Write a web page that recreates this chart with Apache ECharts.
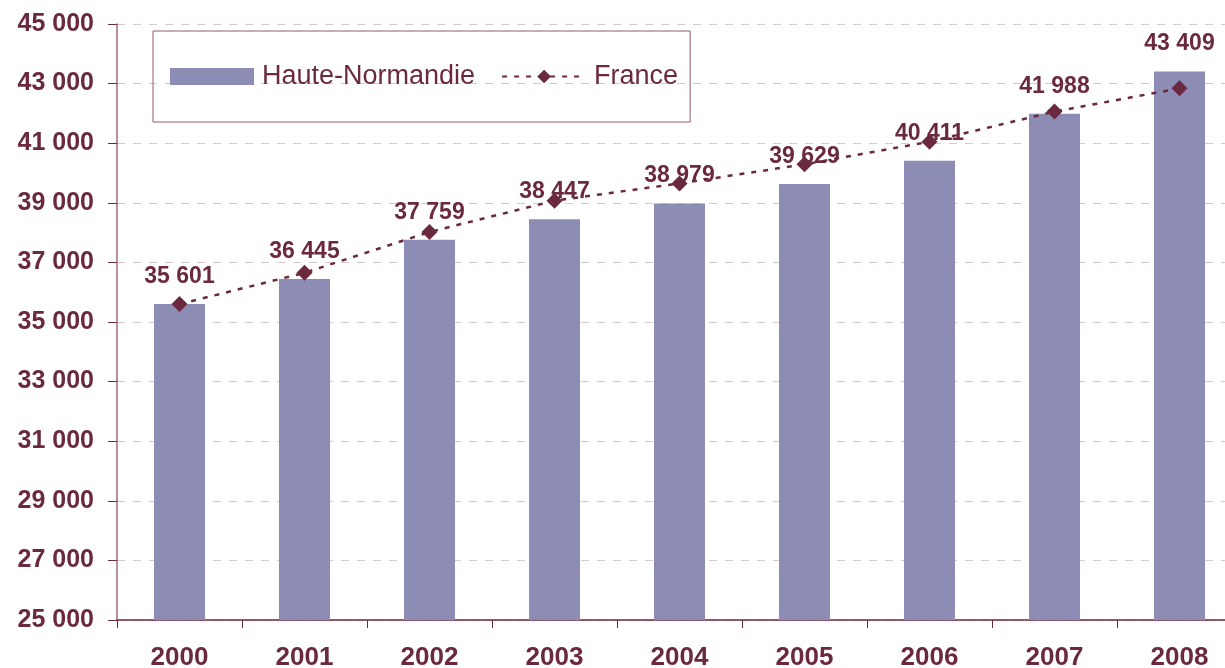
<!DOCTYPE html>
<html lang="fr">
<head>
<meta charset="UTF-8">
<title>Haute-Normandie / France</title>
<script src="https://cdn.jsdelivr.net/npm/echarts@6/dist/echarts.min.js"></script>
<style>
  html, body { margin: 0; padding: 0; background: #fff; overflow: hidden; }
  /* le graphique d'origine déborde un peu à droite */
  #main { width: 1242px; height: 668px; }
</style>
</head>
<body>
<div id="main"></div>
<script>
var years = ['2000', '2001', '2002', '2003', '2004', '2005', '2006', '2007', '2008'];
// Haute-Normandie (barres, valeurs affichées)
var hauteNormandie = [35601, 36445, 37759, 38447, 38979, 39629, 40411, 41988, 43409];
// France (ligne pointillée)
var france = [35600, 36650, 38020, 39070, 39650, 40290, 41050, 42060, 42840];

var dark = '#6B2940';
var font = '"Liberation Sans", Arial, sans-serif';

function fmt(v) {
    return String(v).replace(/\B(?=(\d{3})+(?!\d))/g, ' ');
}

var myChart = echarts.init(document.getElementById('main'));

var option = {
    animation: false,
    grid: { left: 117, right: 0, top: 24, bottom: 48, outerBoundsMode: 'none' },
    legend: {
        left: 153,
        top: 31,
        padding: [32, 12, 32, 17],
        borderColor: '#8E5A6C',
        borderWidth: 1,
        itemWidth: 84,
        itemHeight: 17,
        itemGap: 26,
        textStyle: { color: dark, fontSize: 27, fontFamily: font, padding: [0, 0, 0, 3] },
        data: [{ name: 'Haute-Normandie', icon: 'rect' }, 'France']
    },
    xAxis: {
        type: 'category',
        data: years,
        axisLine: { lineStyle: { color: dark, width: 1.5 } },
        axisTick: { show: true, length: 8, lineStyle: { color: dark } },
        axisLabel: { color: dark, fontSize: 26, fontWeight: 'bold', fontFamily: font, margin: 25 }
    },
    yAxis: {
        type: 'value',
        min: 25000,
        max: 45000,
        interval: 2000,
        axisLine: { show: true, lineStyle: { color: '#9A6E7E', width: 1.5 } },
        axisTick: { show: true, length: 9, lineStyle: { color: dark } },
        axisLabel: {
            color: dark, fontSize: 25, fontWeight: 'bold', fontFamily: font, margin: 23,
            formatter: fmt
        },
        splitLine: { lineStyle: { color: '#D9C9CD', type: [8, 8], width: 1 } }
    },
    series: [
        {
            name: 'Haute-Normandie',
            type: 'bar',
            data: hauteNormandie,
            barWidth: 51,
            itemStyle: { color: '#8C8CB4' },
            label: {
                show: true,
                position: 'top',
                distance: 16,
                color: dark,
                fontSize: 23,
                fontWeight: 'bold',
                fontFamily: font,
                formatter: function (p) { return fmt(p.value); }
            }
        },
        {
            name: 'France',
            type: 'line',
            data: france,
            symbol: 'diamond',
            symbolSize: 16,
            itemStyle: { color: dark },
            lineStyle: { color: dark, width: 2.5, type: [5, 7] }
        }
    ]
};

option && myChart.setOption(option);
</script>
</body>
</html>
